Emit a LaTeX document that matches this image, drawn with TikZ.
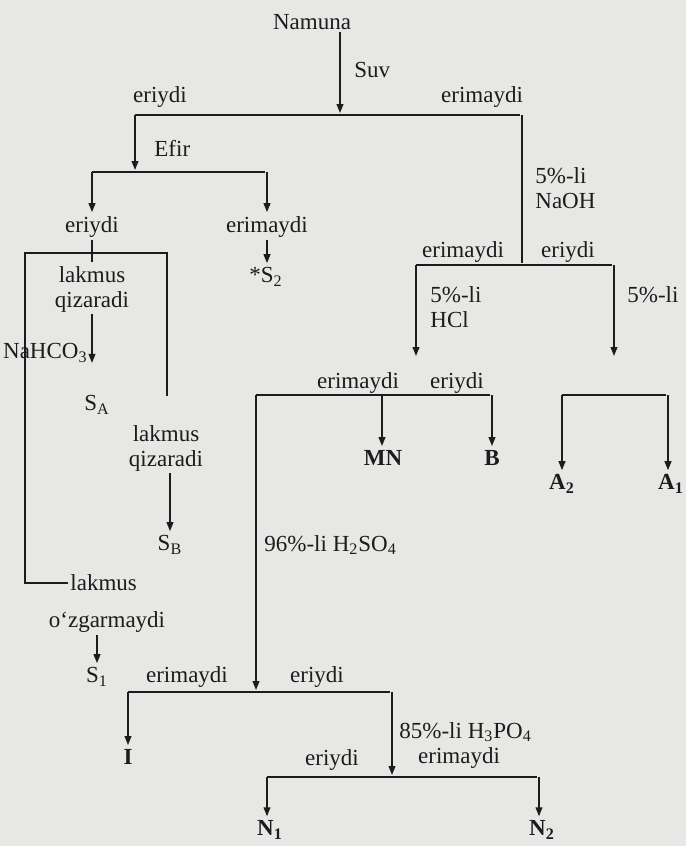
\documentclass[tikz,border=0pt]{standalone}
\usepackage{fontspec}
\setmainfont{Liberation Serif}
\usetikzlibrary{arrows.meta}
\definecolor{scanGray}{RGB}{231,231,229}
\definecolor{inkDark}{RGB}{28,28,28}

\begin{document}
\begin{tikzpicture}[
  x=0.5pt, y=-0.5pt,
  txt/.style={inner sep=1pt, font=\fontsize{11.5}{12.5}\selectfont, text=inkDark},
  lbl/.style={txt, align=left, anchor=west},
  res/.style={txt, font=\fontsize{11.5}{12.5}\selectfont\bfseries},
  ln/.style={draw=inkDark, line width=0.75pt, shorten >=1pt},
  >={Triangle[length=4.5pt,width=3.4pt]}
]
\fill[scanGray] (0,0) rectangle (686,846);
\useasboundingbox (0,0) rectangle (686,846);

%% ── Namuna, Suv ──────────────────────────────────────────────
\node[txt] (nam) at (312,22) {Namuna};
\coordinate (t0)  at (340,115);
\coordinate (t0l) at (135,115);
\coordinate (t0r) at (522,115);
\draw[ln,->] (nam.south -| t0) -- (t0);
\draw[ln] (t0l) -- (t0r);
\node[lbl] (suv) at (352,70) {Suv};
\node[txt] (er1) at (160,97) {eriydi};
\node[txt] (em1) at (482,97) {erimaydi};

%% ── Efir ────────────────────────────────────────────────────
\coordinate (e0)  at (135,172);
\coordinate (e0l) at (92,172);
\coordinate (e0r) at (267,172);
\draw[ln,->] (t0l) -- (e0);
\draw[ln] (e0l) -- (e0r);
\node[lbl] (efir) at (152,148) {Efir};
\node[txt] (er2) at (92,227) {eriydi};
\node[txt] (em2) at (267,227) {erimaydi};
\draw[ln,->] (e0l) -- (er2);
\draw[ln,->] (e0r) -- (em2);
\node[txt] (s2) at (266,277) {*S\textsubscript{2}};
\draw[ln,->] (em2) -- (s2.north -| em2);

%% ── lakmus ──────────────────────────────────────────────────
\node[txt, align=center] (lq1) at (92,289) {lakmus\\qizaradi};
\draw[ln] (er2) -- (lq1);
\node[txt, anchor=east] (nahco) at (90,353) {NaHCO\textsubscript{3}};
\draw[ln,->] (lq1) -- (lq1.south |- nahco.south);
\node[txt] (sa) at (97,405) {S\textsubscript{A}};
\node[txt, align=center] (lq2) at (166,448) {lakmus\\qizaradi};
\node[txt] (sb) at (170,545) {S\textsubscript{B}};
\draw[ln,->] (sb |- lq2.south) -- (sb);
\node[lbl] (lo) at (68,583) {lakmus};
\node[txt] (oz) at (107,622) {o‘zgarmaydi};
\node[txt] (s1) at (97,677) {S\textsubscript{1}};
\draw[ln,->] (s1 |- oz.south) -- (s1);
\coordinate (bxl) at (25,253);
\coordinate (bxr) at (167,253);
\coordinate (bxe) at (167,398);
\draw[ln] (lo.west) -| (bxl) -- (bxr) -- (bxe);

%% ── NaOH ────────────────────────────────────────────────────
\coordinate (n0)  at (522,265);
\coordinate (n0l) at (416,265);
\coordinate (n0r) at (614,265);
\draw[ln] (t0r) -- (n0);
\draw[ln] (n0l) -- (n0r);
\node[lbl] (naoh) at (533,188) {5\%-li\\NaOH};
\node[txt] (em3) at (463,252) {erimaydi};
\node[txt] (er3) at (568,252) {eriydi};
\coordinate (h0) at (416,358);
\coordinate (k0) at (614,358);
\draw[ln,->] (n0l) -- (h0);
\draw[ln,->] (n0r) -- (k0);
\node[lbl] (hcl) at (428,307) {5\%-li\\HCl};
\node[lbl] (p5) at (625,295) {5\%-li};

%% ── HCl: MN, B ──────────────────────────────────────────────
\coordinate (m0l) at (256,395);
\coordinate (m0)  at (382,395);
\coordinate (m0r) at (492,395);
\draw[ln] (m0l) -- (m0r);
\node[txt] (em4) at (358,383) {erimaydi};
\node[txt] (er4) at (457,383) {eriydi};
\node[res] (mn) at (383,458) {MN};
\node[res] (bb) at (492,458) {B};
\draw[ln,->] (m0) -- (m0 |- mn.north);
\draw[ln,->] (m0r) -- (m0r |- bb.north);

%% ── A2, A1 ──────────────────────────────────────────────────
\coordinate (a0l) at (562,395);
\coordinate (a0r) at (668,395);
\draw[ln] (a0l) -- (a0r);
\node[res] (a2) at (562,484) {A\textsubscript{2}};
\node[res] (a1) at (671,484) {A\textsubscript{1}};
\draw[ln,->] (a0l) -- (a0l |- a2.north);
\draw[ln,->] (a0r) -- (a0r |- a1.north);

%% ── H2SO4 ───────────────────────────────────────────────────
\coordinate (q0)  at (256,692);
\coordinate (q0l) at (128,692);
\coordinate (q0r) at (392,692);
\draw[ln,->] (m0l) -- (q0);
\draw[ln] (q0l) -- (q0r);
\node[lbl] (h2so4) at (262,545) {96\%-li H\textsubscript{2}SO\textsubscript{4}};
\node[txt] (em5) at (187,677) {erimaydi};
\node[txt] (er5) at (317,677) {eriydi};
\node[res] (ii) at (128,757) {I};
\draw[ln,->] (q0l) -- (q0l |- ii.north);

%% ── H3PO4 ───────────────────────────────────────────────────
\coordinate (w0)  at (392,777);
\coordinate (w0l) at (267,777);
\coordinate (w0r) at (539,777);
\draw[ln,->] (q0r) -- (w0);
\draw[ln] (w0l) -- (w0r);
\node[lbl] (h3po4) at (397,732) {85\%-li H\textsubscript{3}PO\textsubscript{4}};
\node[txt] (er6) at (332,760) {eriydi};
\node[txt] (em6) at (459,758) {erimaydi};
\node[res] (n1) at (270,830) {N\textsubscript{1}};
\node[res] (n2) at (542,830) {N\textsubscript{2}};
\draw[ln,->] (w0l) -- (w0l |- n1.north);
\draw[ln,->] (w0r) -- (w0r |- n2.north);
\end{tikzpicture}
\end{document}
